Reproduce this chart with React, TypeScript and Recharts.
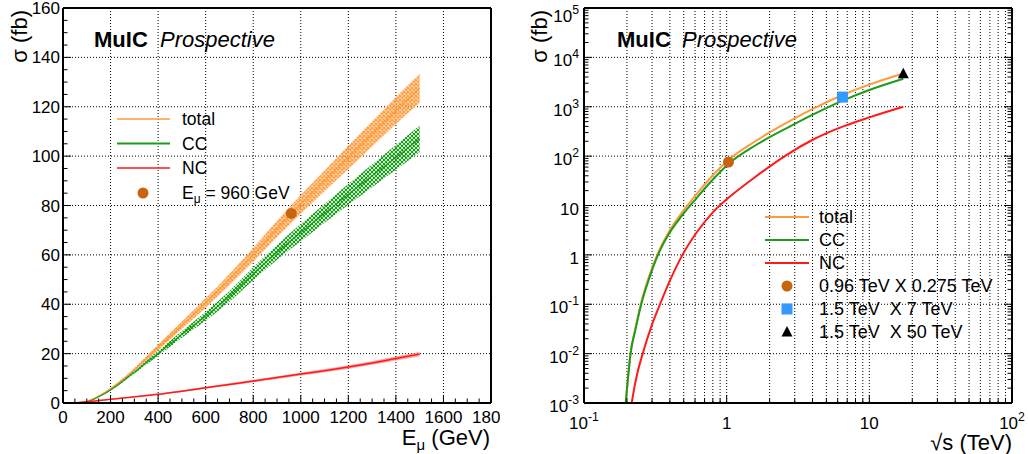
import { ComposedChart, Line, Area, Scatter, XAxis, YAxis, CartesianGrid } from 'recharts';

// ---------- left panel: sigma vs E_mu (GeV) ----------
const energy = [20, 50, 100, 150, 200, 250, 300, 400, 500, 600, 700, 800, 900, 1000, 1100, 1200, 1300, 1400, 1500];
const totalXs = [0, 0.1, 0.7, 2.8, 5.8, 9.4, 13.5, 22.5, 31.5, 40.5, 50, 60, 70.5, 80.5, 90, 99.5, 109, 118.5, 127.5];
const totalLo = [0, 0.1, 0.65, 2.6, 5.5, 8.9, 12.8, 21.4, 30.0, 38.6, 47.7, 57.2, 67.2, 76.7, 85.8, 94.8, 103.9, 113, 121.6];
const totalHi = [0, 0.1, 0.75, 3.0, 6.1, 9.9, 14.2, 23.6, 33.0, 42.4, 52.3, 62.8, 73.8, 84.3, 94.2, 104.2, 114.1, 124, 133.4];
const ccXs = [0, 0.05, 0.5, 2.5, 5.3, 8.7, 12.5, 20.1, 27.8, 35.2, 43.2, 52.3, 61, 69, 76.8, 84.5, 92, 99.5, 107];
const ccLo = [0, 0.05, 0.47, 2.4, 5.0, 8.3, 11.9, 19.1, 26.4, 33.4, 41.0, 49.7, 58.0, 65.5, 73.0, 80.3, 87.4, 94.5, 101.6];
const ccHi = [0, 0.05, 0.53, 2.6, 5.6, 9.1, 13.1, 21.1, 29.2, 37.0, 45.4, 54.9, 64.0, 72.5, 80.6, 88.7, 96.6, 104.5, 112.4];
const ncXs = [0, 0.1, 0.5, 1.0, 1.5, 2.0, 2.5, 3.5, 4.8, 6.2, 7.5, 8.9, 10.3, 11.7, 13.1, 14.6, 16.2, 18.0, 19.8];
const ncLo = [0, 0.05, 0.4, 0.85, 1.3, 1.8, 2.25, 3.2, 4.45, 5.8, 7.05, 8.4, 9.75, 11.1, 12.45, 13.9, 15.45, 17.2, 18.95];
const ncHi = [0, 0.15, 0.6, 1.15, 1.7, 2.2, 2.75, 3.8, 5.15, 6.6, 7.95, 9.4, 10.85, 12.3, 13.75, 15.3, 16.95, 18.8, 20.65];
const mulcPoint = [{ e: 960, sigma: 76.8 }];

const leftXMajor = [0, 200, 400, 600, 800, 1000, 1200, 1400, 1600, 1800];
const leftXLabels = ['0', '200', '400', '600', '800', '1000', '1200', '1400', '1600', '1800'];
const leftYMajor = [0, 20, 40, 60, 80, 100, 120, 140, 160];
const leftYLabels = ['0', '20', '40', '60', '80', '100', '120', '140', '160'];

// ---------- right panel: sigma vs sqrt(s) (TeV), log-log ----------
const sqrtS = [0.196, 0.204, 0.212, 0.229, 0.252, 0.288, 0.33, 0.398, 0.481, 0.614, 0.794, 1.02, 1.585, 2.62, 3.98, 6.56, 10, 17.3];
const totalS = [0.001, 0.0035, 0.0101, 0.032, 0.11, 0.39, 1.08, 3.1, 6.9, 16.8, 40, 82, 200, 470, 896, 1750, 2800, 4700];
const ccS = [0.001, 0.0035, 0.01, 0.03, 0.1, 0.35, 1, 2.8, 6, 14, 32.8, 68, 164, 365, 684, 1350, 2190, 3700];
const sqrtSNc = [0.216, 0.225, 0.235, 0.258, 0.3, 0.341, 0.4, 0.49, 0.614, 0.794, 1.02, 1.585, 2.62, 3.98, 6.56, 10, 17.3];
const ncS = [0.001, 0.002, 0.0037, 0.01, 0.039, 0.1, 0.3, 1, 2.8, 7.1, 14, 37.7, 105, 212, 400, 610, 1000];
const pointA = [{ s: 1.03, v: 76 }];
const pointB = [{ s: 6.48, v: 1570 }];
const pointC = [{ s: 17.3, v: 4680 }];

const logXMajor = [0.1, 1, 10, 100];
const logXLabels = [['10', '-1'], ['1', ''], ['10', ''], ['10', '2']];
const logYMajor = [0.001, 0.01, 0.1, 1, 10, 100, 1000, 10000, 100000];
const logYLabels = [['10', '-3'], ['10', '-2'], ['10', '-1'], ['1', ''], ['10', ''], ['10', '2'], ['10', '3'], ['10', '4'], ['10', '5']];

const ORANGE = '#ff9a3c';
const GREEN = '#1c9c1c';
const RED = '#ff1a1a';
const DOT = '#c8640f';
const BLUE = '#3399ff';

const leftData = energy.map((e, i) => ({
  e,
  total: totalXs[i],
  totalBand: [totalLo[i], totalHi[i]],
  cc: ccXs[i],
  ccBand: [ccLo[i], ccHi[i]],
  nc: ncXs[i],
  ncBand: [ncLo[i], ncHi[i]],
}));
const rTotal = sqrtS.map((s, i) => ({ s, v: totalS[i] }));
const rCc = sqrtS.map((s, i) => ({ s, v: ccS[i] }));
const rNc = sqrtSNc.map((s, i) => ({ s, v: ncS[i] }));

// tick positions (majors + minors)
const linTicks = (max: number, step: number) => {
  const out: number[] = [];
  for (let v = 0; v <= max + 1e-9; v += step) out.push(v);
  return out;
};
const logTicks = (lo: number, hi: number) => {
  const out: number[] = [];
  for (let p = lo; p < hi; p++) for (let m = 1; m < 10; m++) out.push(m * 10 ** p);
  out.push(10 ** hi);
  return out;
};
const leftXTicks = linTicks(1800, 50);
const leftYTicks = linTicks(160, 5);
const logXTicks = logTicks(-1, 2);
const logYTicks = logTicks(-3, 5);

const majorIndex = (majors: number[], v: number) =>
  majors.findIndex((m) => Math.abs(v - m) <= 1e-6 * Math.abs(m) + 1e-12);

type Side = 'bottom' | 'top' | 'left' | 'right';
const MAJOR = 8;
const MINOR = 4.5;

function tickMark(side: Side, majors: number[], label?: (i: number, x: number, y: number) => any) {
  return (props: any) => {
    const { x, y, payload } = props;
    const i = majorIndex(majors, payload.value);
    const len = i >= 0 ? MAJOR : MINOR;
    let x2 = x;
    let y2 = y;
    if (side === 'bottom') y2 = y - len;
    if (side === 'top') y2 = y + len;
    if (side === 'left') x2 = x + len;
    if (side === 'right') x2 = x - len;
    return (
      <g>
        <line x1={x} y1={y} x2={x2} y2={y2} stroke="#000" strokeWidth={1} />
        {i >= 0 && label ? label(i, x, y) : null}
      </g>
    );
  };
}

const supText = (base: string, exp: string, x: number, y: number, anchor: string, size: number) => (
  <text x={x} y={y} textAnchor={anchor} fontSize={size} fill="#000">
    <tspan>{base}</tspan>
    {exp ? (
      <tspan dy={-8} fontSize={size * 0.72}>
        {exp}
      </tspan>
    ) : null}
  </text>
);

const frame = { stroke: '#000', strokeWidth: 2 };

function LeftPanel() {
  return (
    <ComposedChart width={500} height={454} data={leftData} margin={{ top: 7, right: 8, bottom: 50, left: 62 }}>
      <defs>
        <pattern id="hatchOrange" width="4" height="4" patternUnits="userSpaceOnUse">
          <rect width="4" height="4" fill="#ffbb77" fillOpacity={0.55} />
          <path d="M0,4 L4,0 M0,0 L4,4" stroke={ORANGE} strokeWidth={1.1} />
        </pattern>
        <pattern id="hatchGreen" width="4" height="4" patternUnits="userSpaceOnUse">
          <rect width="4" height="4" fill="#8fd68f" fillOpacity={0.5} />
          <path d="M0,4 L4,0 M0,0 L4,4" stroke={GREEN} strokeWidth={1} />
        </pattern>
      </defs>
      <CartesianGrid
        xAxisId="x"
        yAxisId="y"
        verticalValues={leftXMajor}
        horizontalValues={leftYMajor}
        stroke="#000"
        strokeDasharray="1 2"
      />
      <Area xAxisId="x" yAxisId="y" type="monotone" dataKey="totalBand" stroke="none" fill="url(#hatchOrange)" fillOpacity={1} isAnimationActive={false} />
      <Area xAxisId="x" yAxisId="y" type="monotone" dataKey="ccBand" stroke="none" fill="url(#hatchGreen)" fillOpacity={1} isAnimationActive={false} />
      <Area xAxisId="x" yAxisId="y" type="monotone" dataKey="ncBand" stroke="none" fill="#ff6666" fillOpacity={0.6} isAnimationActive={false} />
      <Line xAxisId="x" yAxisId="y" type="monotone" dataKey="total" stroke={ORANGE} strokeWidth={1.2} dot={false} isAnimationActive={false} />
      <Line xAxisId="x" yAxisId="y" type="monotone" dataKey="cc" stroke={GREEN} strokeWidth={1.2} dot={false} isAnimationActive={false} />
      <Line xAxisId="x" yAxisId="y" type="monotone" dataKey="nc" stroke={RED} strokeWidth={1.5} dot={false} isAnimationActive={false} />
      <Scatter
        xAxisId="x"
        yAxisId="y"
        data={mulcPoint}
        dataKey="sigma"
        isAnimationActive={false}
        shape={(p: any) => <circle cx={p.cx} cy={p.cy} r={5.5} fill={DOT} />}
      />
      <XAxis
        xAxisId="x"
        dataKey="e"
        type="number"
        domain={[0, 1800]}
        ticks={leftXTicks}
        interval={0}
        height={1}
        tickSize={0}
        tickMargin={0}
        axisLine={frame}
        tickLine={false}
        tick={tickMark('bottom', leftXMajor, (i, x, y) => (
          <text x={x} y={y + 20} textAnchor="middle" fontSize={17} fill="#000">
            {leftXLabels[i]}
          </text>
        ))}
      />
      <XAxis
        xAxisId="xt"
        orientation="top"
        type="number"
        domain={[0, 1800]}
        ticks={leftXTicks}
        interval={0}
        height={1}
        tickSize={0}
        tickMargin={0}
        axisLine={frame}
        tickLine={false}
        tick={tickMark('top', leftXMajor)}
      />
      <YAxis
        yAxisId="y"
        type="number"
        domain={[0, 160]}
        ticks={leftYTicks}
        interval={0}
        width={1}
        tickSize={0}
        tickMargin={0}
        axisLine={frame}
        tickLine={false}
        tick={tickMark('left', leftYMajor, (i, x, y) => (
          <text x={x - 3} y={y + 6} textAnchor="end" fontSize={17} fill="#000">
            {leftYLabels[i]}
          </text>
        ))}
      />
      <YAxis
        yAxisId="yr"
        orientation="right"
        type="number"
        domain={[0, 160]}
        ticks={leftYTicks}
        interval={0}
        width={1}
        tickSize={0}
        tickMargin={0}
        axisLine={frame}
        tickLine={false}
        tick={tickMark('right', leftYMajor)}
      />
    </ComposedChart>
  );
}

function RightPanel() {
  return (
    <ComposedChart width={508} height={454} margin={{ top: 7, right: 15, bottom: 50, left: 63 }}>
      <CartesianGrid xAxisId="x" yAxisId="y" verticalValues={logXTicks} horizontalValues={logYMajor} stroke="#000" strokeDasharray="1 2" />
      <Line xAxisId="x" yAxisId="y" data={rNc} type="monotone" dataKey="v" stroke={RED} strokeWidth={2} dot={false} isAnimationActive={false} />
      <Line xAxisId="x" yAxisId="y" data={rTotal} type="monotone" dataKey="v" stroke={ORANGE} strokeWidth={2} dot={false} isAnimationActive={false} />
      <Line xAxisId="x" yAxisId="y" data={rCc} type="monotone" dataKey="v" stroke={GREEN} strokeWidth={2} dot={false} isAnimationActive={false} />
      <Scatter xAxisId="x" yAxisId="y" data={pointA} dataKey="v" isAnimationActive={false}
        shape={(p: any) => <circle cx={p.cx} cy={p.cy} r={5.5} fill={DOT} />} />
      <Scatter xAxisId="x" yAxisId="y" data={pointB} dataKey="v" isAnimationActive={false}
        shape={(p: any) => <rect x={p.cx - 5.5} y={p.cy - 5.5} width={11} height={11} fill={BLUE} />} />
      <Scatter xAxisId="x" yAxisId="y" data={pointC} dataKey="v" isAnimationActive={false}
        shape={(p: any) => <path d={`M${p.cx},${p.cy - 6} L${p.cx + 5.5},${p.cy + 4.5} L${p.cx - 5.5},${p.cy + 4.5} Z`} fill="#000" />} />
      <XAxis
        xAxisId="x"
        dataKey="s"
        type="number"
        scale="log"
        domain={[0.1, 100]}
        allowDataOverflow
        ticks={logXTicks}
        interval={0}
        height={1}
        tickSize={0}
        tickMargin={0}
        axisLine={frame}
        tickLine={false}
        tick={tickMark('bottom', logXMajor, (i, x, y) =>
          supText(logXLabels[i][0], logXLabels[i][1], x, y + 26, 'middle', 17)
        )}
      />
      <XAxis
        xAxisId="xt"
        orientation="top"
        type="number"
        scale="log"
        domain={[0.1, 100]}
        allowDataOverflow
        ticks={logXTicks}
        interval={0}
        height={1}
        tickSize={0}
        tickMargin={0}
        axisLine={frame}
        tickLine={false}
        tick={tickMark('top', logXMajor)}
      />
      <YAxis
        yAxisId="y"
        type="number"
        scale="log"
        domain={[0.001, 100000]}
        allowDataOverflow
        ticks={logYTicks}
        interval={0}
        width={1}
        tickSize={0}
        tickMargin={0}
        axisLine={frame}
        tickLine={false}
        tick={tickMark('left', logYMajor, (i, x, y) =>
          supText(logYLabels[i][0], logYLabels[i][1], x - 5, y + (i === logYMajor.length - 1 ? 14 : 9), 'end', 17)
        )}
      />
      <YAxis
        yAxisId="yr"
        orientation="right"
        type="number"
        scale="log"
        domain={[0.001, 100000]}
        allowDataOverflow
        ticks={logYTicks}
        interval={0}
        width={1}
        tickSize={0}
        tickMargin={0}
        axisLine={frame}
        tickLine={false}
        tick={tickMark('right', logYMajor)}
      />
    </ComposedChart>
  );
}

const leftLegend = [
  { label: 'total', color: ORANGE, w: 1.5 },
  { label: 'CC', color: GREEN, w: 2 },
  { label: 'NC', color: RED, w: 1.5 },
];
const rightPoints = ['0.96 TeV X 0.275 TeV', '1.5 TeV  X 7 TeV', '1.5 TeV  X 50 TeV'];

function Overlay() {
  return (
    <svg width={1028} height={454} style={{ position: 'absolute', left: 0, top: 0, pointerEvents: 'none' }}>
      {/* panel titles */}
      <text x={94} y={47} fontSize={22} fontWeight="bold">MuIC</text>
      <text x={160} y={47} fontSize={22} fontStyle="italic">Prospective</text>
      <text x={617} y={47} fontSize={22} fontWeight="bold">MuIC</text>
      <text x={682} y={47} fontSize={22} fontStyle="italic">Prospective</text>

      {/* axis titles */}
      <text transform="translate(27,10) rotate(-90)" textAnchor="end" fontSize={22}>σ (fb)</text>
      <text transform="translate(547,10) rotate(-90)" textAnchor="end" fontSize={22}>σ (fb)</text>
      <text x={490} y={445} textAnchor="end" fontSize={22}>
        <tspan>E</tspan>
        <tspan dy={5} fontSize={15}>μ</tspan>
        <tspan dy={-5}> (GeV)</tspan>
      </text>
      <text x={1012} y={450} textAnchor="end" fontSize={22}>√s (TeV)</text>

      {/* left legend */}
      {leftLegend.map((d, i) => (
        <g key={d.label}>
          <line x1={117} x2={170} y1={119 + i * 24.5} y2={119 + i * 24.5} stroke={d.color} strokeWidth={d.w} />
          <text x={182} y={125 + i * 24.5} fontSize={17.5}>{d.label}</text>
        </g>
      ))}
      <circle cx={143} cy={193} r={5.5} fill={DOT} />
      <text x={182} y={199} fontSize={17.5}>
        <tspan>E</tspan>
        <tspan dy={4} fontSize={12}>μ</tspan>
        <tspan dy={-4}> = 960 GeV</tspan>
      </text>

      {/* right legend */}
      {leftLegend.map((d, i) => (
        <g key={'r' + d.label}>
          <line x1={765} x2={809} y1={217 + i * 23} y2={217 + i * 23} stroke={d.color} strokeWidth={2} />
          <text x={819} y={223 + i * 23} fontSize={18}>{d.label}</text>
        </g>
      ))}
      <circle cx={787} cy={286} r={5.5} fill={DOT} />
      <rect x={781.5} y={303.5} width={11} height={11} fill={BLUE} />
      <path d="M787,326 L792.5,336.5 L781.5,336.5 Z" fill="#000" />
      {rightPoints.map((t, i) => (
        <text key={t} x={819} y={292 + i * 23} fontSize={18} style={{ whiteSpace: 'pre' }}>{t}</text>
      ))}
    </svg>
  );
}

export default function App() {
  return (
    <div
      style={{
        position: 'absolute',
        left: 0,
        top: 0,
        width: 1028,
        height: 454,
        background: '#fff',
        fontFamily: "'Liberation Sans', Arial, Helvetica, sans-serif",
        overflow: 'hidden',
      }}
    >
      <div style={{ position: 'absolute', left: 0, top: 0 }}>
        <LeftPanel />
      </div>
      <div style={{ position: 'absolute', left: 520, top: 0 }}>
        <RightPanel />
      </div>
      <Overlay />
    </div>
  );
}
